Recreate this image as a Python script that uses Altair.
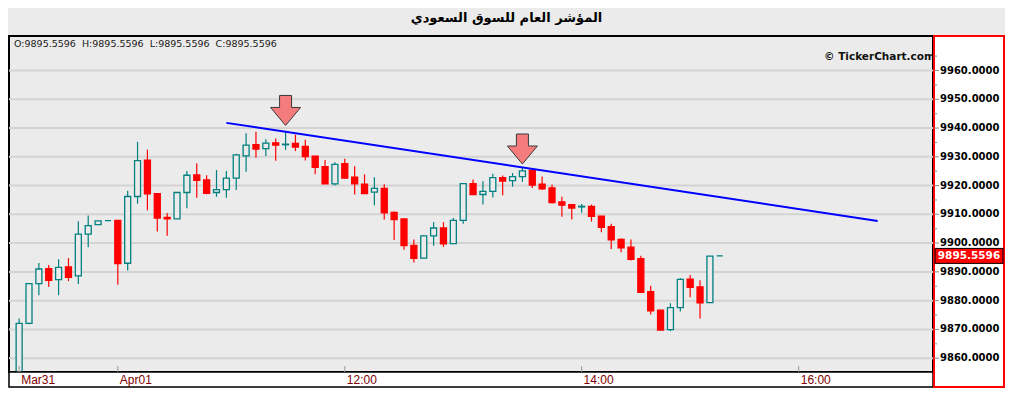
import altair as alt
import pandas as pd

# ---------------- data ----------------
idx = list(range(72))
opens = [9852.0, 9872.1, 9885.9, 9891.1, 9887.3, 9891.7, 9888.6, 9903.1, 9906.4, 9907.8,
         9907.9, 9893.0, 9916.2, 9928.8, 9917.2, 9908.9, 9908.4, 9917.6, 9923.7, 9922.0,
         9917.6, 9918.6, 9922.6, 9930.3, 9934.2, 9932.85, 9934.87, 9934.2, 9934.65, 9933.64,
         9930.27, 9926.56, 9920.6, 9927.6, 9922.9, 9920.5, 9917.7, 9919.05, 9910.7, 9908.4,
         9899.2, 9894.8, 9902.55, 9905.25, 9899.85, 9907.9, 9920.7, 9916.9, 9918.0, 9922.75,
         9921.7, 9923.1, 9925.4, 9920.5, 9919.2, 9914.3, 9913.4, 9912.6, 9912.8, 9909.4,
         9905.7, 9901.3, 9898.6, 9894.6, 9883.1, 9876.7, 9869.9, 9877.6, 9887.5, 9884.8,
         9879.3, 9895.5596]
highs = [9873.8, 9886.0, 9893.1, 9892.4, 9894.4, 9894.8, 9907.6, 9909.6, 9907.7, 9907.8,
         9907.9, 9918.2, 9935.2, 9932.5, 9917.2, 9910.5, 9917.6, 9925.1, 9927.8, 9923.6,
         9925.4, 9925.1, 9931.1, 9938.2, 9938.7, 9936.1, 9936.4, 9938.5, 9937.7, 9935.9,
         9930.3, 9928.9, 9928.1, 9929.3, 9926.7, 9923.9, 9922.9, 9920.5, 9911.0, 9908.4,
         9901.3, 9902.7, 9907.3, 9907.3, 9908.7, 9920.7, 9922.1, 9921.5, 9924.1, 9923.5,
         9924.4, 9926.45, 9925.5, 9923.2, 9920.4, 9916.1, 9913.6, 9913.6, 9913.4, 9909.5,
         9906.7, 9901.65, 9901.3, 9895.6, 9885.15, 9876.8, 9879.1, 9887.85, 9888.9, 9887.1,
         9895.5, 9895.5596]
lows = [9850.0, 9871.8, 9881.9, 9884.8, 9881.9, 9886.8, 9885.8, 9898.6, 9906.4, 9907.8,
        9885.5, 9890.5, 9913.7, 9911.4, 9904.0, 9902.6, 9908.4, 9912.1, 9915.8, 9917.0,
        9916.1, 9915.8, 9918.5, 9924.8, 9929.7, 9930.3, 9928.6, 9932.4, 9932.0, 9928.7,
        9923.9, 9920.6, 9920.06, 9922.3, 9916.9, 9917.25, 9913.2, 9908.2, 9901.1, 9897.7,
        9893.3, 9894.7, 9899.1, 9898.7, 9899.85, 9906.7, 9916.9, 9913.4, 9915.9, 9916.6,
        9919.6, 9921.3, 9919.2, 9918.5, 9913.8, 9909.2, 9908.2, 9910.6, 9907.5, 9903.8,
        9898.0, 9896.8, 9894.0, 9882.9, 9875.2, 9869.8, 9869.4, 9876.2, 9881.2, 9873.8,
        9879.3, 9895.5596]
closes = [9872.1, 9885.9, 9891.0, 9887.1, 9891.6, 9888.1, 9903.1, 9906.1, 9907.7, 9907.8,
          9892.9, 9916.2, 9928.7, 9917.1, 9908.7, 9908.4, 9917.6, 9923.6, 9921.8, 9917.3,
          9918.6, 9922.6, 9930.7, 9934.1, 9932.7, 9934.76, 9934.1, 9934.4, 9933.4, 9930.05,
          9926.34, 9920.6, 9927.35, 9922.6, 9920.6, 9917.25, 9919.05, 9910.5, 9908.2, 9899.1,
          9894.7, 9902.55, 9905.25, 9899.75, 9907.9, 9920.7, 9916.9, 9918.0, 9922.75, 9921.6,
          9923.1, 9925.1, 9920.2, 9918.9, 9914.1, 9913.2, 9912.2, 9912.8, 9909.3, 9905.5,
          9901.1, 9898.4, 9894.4, 9882.9, 9876.5, 9869.8, 9877.6, 9887.4, 9884.6, 9879.2,
          9895.5, 9895.5596]

xtick_idx = [0, 10, 33, 57, 79]
xtick_labels = ["Mar31", "Apr01", "12:00", "14:00", "16:00"]
ytick_vals = [9860, 9870, 9880, 9890, 9900, 9910, 9920, 9930, 9940, 9950, 9960]
yminor_vals = [9865, 9875, 9885, 9895, 9905, 9915, 9925, 9935, 9945, 9955, 9965]
trend_idx = [21, 87]
trend_vals = [9941.8, 9907.7]
arrow_idx = [27, 51]
arrow_tip_vals = [9940.9, 9927.5]
last_price = [9895.5596]
title_text = "المؤشر العام للسوق السعودي"
header_parts = ["O:9895.5596", "H:9895.5596", "L:9895.5596", "C:9895.5596"]
copyright_text = "© TickerChart.com"

# ---------------- layout / style ----------------
W, H = 924, 336
PANEL = 72
XSTRIP = 15
BG = "#EBEBEB"
TEAL = "#008080"
RED = "#FF0000"

xs = alt.Scale(domain=[-0.52, 92.1], nice=False, zero=False)
ys = alt.Scale(domain=[9855.2, 9972.0], nice=False, zero=False)

candles = pd.DataFrame({"i": idx, "o": opens, "h": highs, "l": lows, "c": closes})
candles["dir"] = ["up" if c >= o else "down" for o, c in zip(opens, closes)]

ygrid = pd.DataFrame({"v": ytick_vals})
yminor = pd.DataFrame({"v": yminor_vals})
xticks = pd.DataFrame({"i": xtick_idx, "lab": xtick_labels})
trend = pd.DataFrame({"i": trend_idx, "v": trend_vals})
arrows = pd.DataFrame({"i": arrow_idx, "v": arrow_tip_vals})
price = pd.DataFrame({"v": last_price})
price["t"] = [f"{p:.4f}" for p in last_price]
header = pd.DataFrame({"t": ["\u00a0\u00a0".join(header_parts)]})
copy_df = pd.DataFrame({"t": [copyright_text]})
one = pd.DataFrame({"k": [0]})

X = lambda f: alt.X(f, type="quantitative", scale=xs, axis=None)
Y = lambda f: alt.Y(f, type="quantitative", scale=ys, axis=None)

dir_stroke = alt.Stroke("dir:N", scale=alt.Scale(domain=["up", "down"], range=[TEAL, RED]), legend=None)
dir_fill = alt.Fill("dir:N", scale=alt.Scale(domain=["up", "down"], range=[BG, RED]), legend=None)

grid = alt.Chart(ygrid).mark_rule(color="#D3D3D3", strokeWidth=2).encode(y=Y("v"))

wicks = alt.Chart(candles).mark_rule(strokeWidth=1.2, clip=True).encode(
    x=X("i"), y=Y("l"), y2="h", stroke=dir_stroke)

bodies = alt.Chart(candles).mark_bar(width=6, strokeWidth=1.3, clip=True, opacity=1).encode(
    x=X("i"), y=Y("o"), y2="c", stroke=dir_stroke, fill=dir_fill)

trendline = alt.Chart(trend).mark_line(color="#0000FF", strokeWidth=2).encode(x=X("i"), y=Y("v"))

arrow_path = "M -0.4 -2 L 0.4 -2 L 0.4 -1.2 L 1 -1.2 L 0 0 L -1 -1.2 L -0.4 -1.2 Z"
arrow_marks = alt.Chart(arrows).mark_point(
    shape=arrow_path, size=900, filled=True, fill="#F47C7C", stroke="#3A3A3A",
    strokeWidth=1, opacity=1, fillOpacity=1).encode(x=X("i"), y=Y("v"))

header_txt = alt.Chart(header).mark_text(
    align="left", baseline="middle", font="DejaVu Sans", fontSize=9.5, color="#202020").encode(
    x=alt.value(5), y=alt.value(8), text="t:N")

copy_txt = alt.Chart(copy_df).mark_text(
    align="right", baseline="middle", font="DejaVu Sans", fontSize=10.5, fontWeight="bold",
    color="#111111").encode(x=alt.value(W + 2), y=alt.value(21), text="t:N")

xstrip = alt.Chart(one).mark_rect(fill="white", stroke="black", strokeWidth=1.5).encode(
    x=alt.value(0), x2=alt.value(W), y=alt.value(H), y2=alt.value(H + XSTRIP))

xtick_rules = alt.Chart(xticks).mark_rule(color="#9A9A9A", strokeWidth=1).encode(
    x=X("i"), y=alt.value(H - 6), y2=alt.value(H))

xtick_text = alt.Chart(xticks).mark_text(
    align="left", baseline="alphabetic", dx=2, font="Liberation Sans", fontSize=12,
    color="#800000").encode(x=X("i"), y=alt.value(H + 12), text="lab:N")

panel = alt.Chart(one).mark_rect(fill="white", stroke="#FF0000", strokeWidth=2).encode(
    x=alt.value(W + 1), x2=alt.value(W + PANEL - 1), y=alt.value(0), y2=alt.value(H + XSTRIP))

ymajor_rules = alt.Chart(ygrid).mark_rule(color="#8A8A8A", strokeWidth=1).encode(
    x=alt.value(W + 1), x2=alt.value(W + 6), y=Y("v"))

yminor_rules = alt.Chart(yminor).mark_rule(color="#8A8A8A", strokeWidth=1).encode(
    x=alt.value(W + 1), x2=alt.value(W + 4), y=Y("v"))

ylabels = alt.Chart(ygrid).mark_text(
    align="left", baseline="middle", font="DejaVu Sans", fontSize=10, fontWeight="bold",
    color="black").encode(x=alt.value(W + 7), y=Y("v"), text=alt.Text("v:Q", format=".4f"))

box_path = "M -1 -0.22 L 1 -0.22 L 1 0.22 L -1 0.22 Z"
price_box = alt.Chart(price).mark_point(
    shape=box_path, size=4624, filled=True, fill="#FF0000", stroke="black", strokeWidth=1,
    opacity=1, fillOpacity=1).encode(x=alt.value(W + 36), y=Y("v"))

price_txt = alt.Chart(price).mark_text(
    align="center", baseline="middle", font="DejaVu Sans", fontSize=10.5, fontWeight="bold",
    color="white").encode(x=alt.value(W + 36), y=Y("v"), text="t:N")

chart = alt.layer(
    grid, wicks, bodies, trendline, arrow_marks, header_txt, copy_txt,
    xstrip, xtick_rules, xtick_text, panel, ymajor_rules, yminor_rules, ylabels,
    price_box, price_txt
).properties(
    width=W, height=H, background=BG,
    padding={"left": 0, "top": 4, "right": 0, "bottom": 0},
    title=alt.TitleParams(title_text, font="DejaVu Sans", fontSize=13, fontWeight="bold",
                          anchor="middle", frame="bounds", offset=10, color="black"),
).configure_view(stroke="black", strokeWidth=2, fill=BG)

chart.save("out.html", embed_options={"renderer": "svg", "actions": False})
